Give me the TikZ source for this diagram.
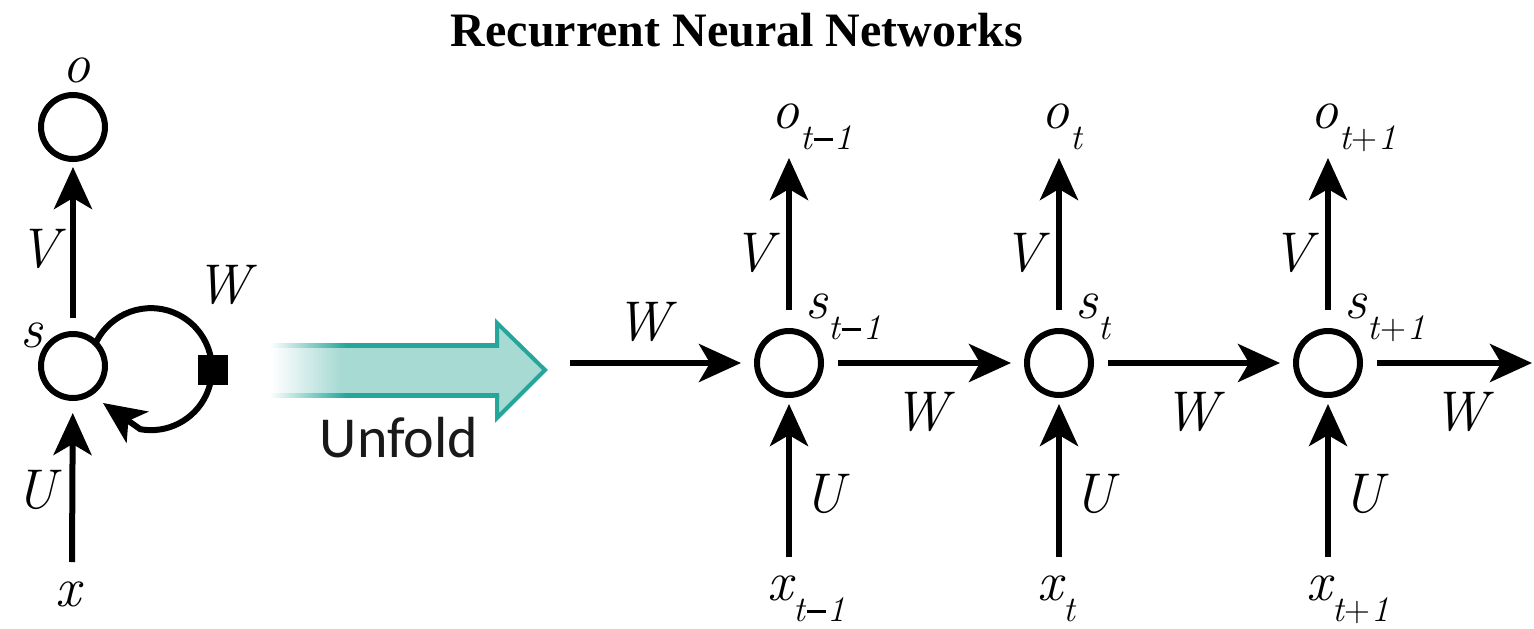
\documentclass[tikz,border=0pt]{standalone}
\usepackage{fontspec}
\setmainfont{Liberation Serif}
\newfontfamily\unffont{Carlito}
\newfontfamily\lmit{Latin Modern Roman}
\usetikzlibrary{arrows.meta}
\definecolor{ufill}{RGB}{168,218,212}
\definecolor{uline}{RGB}{38,166,154}
\pgfdeclarehorizontalshading{ushade}{100bp}{color(0bp)=(white); color(27bp)=(white); color(39bp)=(ufill); color(100bp)=(ufill)}
\pgfdeclarehorizontalshading{lshade}{100bp}{color(0bp)=(white); color(27bp)=(white); color(43bp)=(uline); color(100bp)=(uline)}
\newcommand{\sublab}[2]{#1\kern1pt\raisebox{-21pt}{\fontsize{36}{36}\selectfont #2}}
\newcommand{\mn}{\kern2pt\rule[8.5pt]{19pt}{2.4pt}\kern2pt}
\newcommand{\pl}{\kern1pt{\upshape +}\kern1pt}
\begin{document}
\begin{tikzpicture}[x=1pt,y=1pt,
  every node/.style={inner sep=0pt, outer sep=0pt},
  cell/.style={circle, draw, line width=6pt, minimum size=64pt},
  arr/.style={line width=6pt, -{Stealth[length=42pt,width=38pt,inset=11pt]}},
  lbl/.style={anchor=base west, font=\lmit\itshape\fontsize{56}{56}\selectfont},
]
\useasboundingbox (0,0) rectangle (1534,-629);

% title
\node[font=\fontsize{48}{48}\selectfont\bfseries, anchor=base] (title) at (737,-46) {Recurrent Neural Networks};

% folded network
\node[cell] (o0) at (73,-127) {};
\node[cell] (s0) at (73,-366) {};
\coordinate (x0) at (72,-562);
\coordinate (loopend) at (103,-403);
\draw[arr, shorten <=16pt, shorten >=8pt] (s0) -- (o0);
\draw[arr, shorten >=15pt] (x0) -- (s0);
\draw[arr] (s0.45) arc[start angle=155, end angle=-100, radius=61] -- (loopend);
\node[fill=black, minimum size=30pt] (sq) at (213,-370) {};
\node[lbl] (lo0) at (62,-82) {o};
\node[lbl] (lV0) at (18,-267) {V};
\node[lbl] (ls0) at (20,-347) {s};
\node[lbl] (lW0) at (195,-303) {W};
\node[lbl] (lU0) at (16,-508) {U};
\node[lbl] (lx0) at (55,-606) {x};

% unfold arrow
\shade[shading=ushade] (260,-345) -- (497,-345) -- (497,-323) -- (545,-370) -- (497,-418) -- (497,-395) -- (260,-395) -- cycle;
\draw[uline, line width=4pt, line join=miter] (497,-345) -- (497,-323) -- (545,-370) -- (497,-418) -- (497,-395);
\shade[shading=lshade] (260,-343) rectangle (499,-347);
\shade[shading=lshade] (260,-393) rectangle (499,-397);
\node[font=\unffont\fontsize{58}{58}\selectfont, anchor=base, text=black!90] (unf) at (399,-457) {Unfold};

% unfolded network
\coordinate (win) at (570,-363);
\coordinate (wout) at (1532,-363);
\node[lbl] (lWin) at (615,-340) {W};
\foreach \i/\cx/\sub in {1/789/t\mn1, 2/1059/t, 3/1328/t\pl1} {
  \node[cell] (s\i) at (\cx,-363) {};
  \coordinate (vo\i) at (\cx,-158);
  \coordinate (x\i) at (\cx,-557);
  \draw[arr, shorten <=21pt] (s\i) -- (vo\i);
  \draw[arr, shorten >=9pt] (x\i) -- (s\i);
  \node[lbl] (lo\i) at (\cx-18,-128) {\sublab{o}{\sub}};
  \node[lbl] (lV\i) at (\cx-57,-271) {V};
  \node[lbl] (ls\i) at (\cx+16,-318) {\sublab{s}{\sub}};
  \node[lbl] (lU\i) at (\cx+14,-512) {U};
  \node[lbl] (lx\i) at (\cx-22,-600) {\sublab{x}{\sub}};
  \node[lbl] (lWo\i) at (\cx+104,-430) {W};
}
\draw[arr, shorten >=16pt] (win) -- (s1);
\draw[arr, shorten <=17pt, shorten >=16pt] (s1) -- (s2);
\draw[arr, shorten <=17pt, shorten >=16pt] (s2) -- (s3);
\draw[arr, shorten <=17pt] (s3) -- (wout);
\end{tikzpicture}
\end{document}
